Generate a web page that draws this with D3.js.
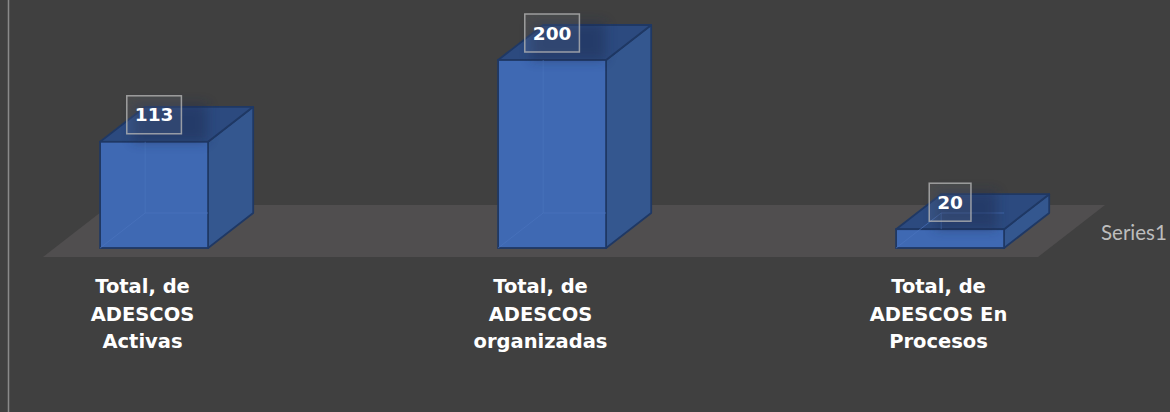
<!DOCTYPE html>
<html>
<head>
<meta charset="utf-8">
<script src="https://cdn.jsdelivr.net/npm/d3@7"></script>
<style>
  html, body { margin: 0; padding: 0; background: #404040; }
  svg { display: block; }
</style>
</head>
<body>
<svg id="chart" width="1170" height="412"></svg>
<script>
// ---- data ----
const categories = ["Total, de ADESCOS Activas", "Total, de ADESCOS organizadas", "Total, de ADESCOS En Procesos"];
const values = [113, 200, 20];
const seriesName = "Series1";

// ---- layout ----
const W = 1170, H = 412;
const floorFrontY = 257;
const floorDepth = { dx: 67, dy: -52 };
const barFrontOffset = 9 / 52;
const barDepthFrac = 35 / 52;
const barWidth = 108;

const svg = d3.select("#chart");
svg.append("rect").attr("width", W).attr("height", H).attr("fill", "#404040");
svg.append("line").attr("x1", 8.5).attr("x2", 8.5).attr("y1", 0).attr("y2", H)
  .attr("stroke", "#8a8a8a").attr("stroke-width", 1.5);

const defs = svg.append("defs");
defs.append("filter").attr("id", "blur").attr("x", "-50%").attr("y", "-50%").attr("width", "200%").attr("height", "200%")
  .append("feGaussianBlur").attr("stdDeviation", 6);

const x = d3.scalePoint().domain(categories).range([43, 1038]).padding(0.25);
const base = floorFrontY + floorDepth.dy * barFrontOffset;
const y = d3.scaleLinear().domain([0, 200]).range([base, 60]);

// floor
const fx0 = x.range()[0], fx1 = x.range()[1];
const floorPts = [
  [fx0, floorFrontY], [fx1, floorFrontY],
  [fx1 + floorDepth.dx, floorFrontY + floorDepth.dy],
  [fx0 + floorDepth.dx, floorFrontY + floorDepth.dy]
];
svg.append("polygon").attr("points", floorPts.map(p => p.join(",")).join(" "))
  .attr("fill", "#504e4f");

const ddx = floorDepth.dx * barDepthFrac, ddy = floorDepth.dy * barDepthFrac;
const offX = floorDepth.dx * barFrontOffset;

const bars = svg.append("g").selectAll("g").data(categories).join("g");
bars.each(function(c, i) {
  const g = d3.select(this);
  const cx = x(c) + offX;
  const x0 = cx - barWidth / 2, x1 = cx + barWidth / 2;
  const yb = y(0), yt = y(values[i]);
  const edge = "#1f3864";
  // side face
  g.append("polygon")
    .attr("points", [[x1, yb], [x1 + ddx, yb + ddy], [x1 + ddx, yt + ddy], [x1, yt]].map(p => p.join(",")).join(" "))
    .attr("fill", "#34578f").attr("stroke", edge).attr("stroke-width", 1.8).attr("stroke-linejoin", "round");
  // top face
  g.append("polygon")
    .attr("points", [[x0, yt], [x1, yt], [x1 + ddx, yt + ddy], [x0 + ddx, yt + ddy]].map(p => p.join(",")).join(" "))
    .attr("fill", "#2c4a7f").attr("stroke", edge).attr("stroke-width", 1.8).attr("stroke-linejoin", "round");
  // front face
  g.append("rect").attr("x", x0).attr("y", yt).attr("width", barWidth).attr("height", yb - yt)
    .attr("fill", "#3f69b3").attr("stroke", edge).attr("stroke-width", 1.8);
  // faint see-through back edges
  g.append("path")
    .attr("d", `M${x0 + ddx},${Math.max(yt, yt + ddy)} L${x0 + ddx},${yb + ddy} L${x1},${yb + ddy} M${x0},${yb} L${x0 + ddx},${yb + ddy}`)
    .attr("fill", "none").attr("stroke", "#4a74bd").attr("stroke-opacity", 0.7).attr("stroke-width", 1);
});

// value labels
bars.each(function(c, i) {
  const g = d3.select(this);
  const cx = x(c) + offX;
  const yt = y(values[i]);
  const t = g.append("text").attr("x", cx).attr("y", yt - 27)
    .attr("text-anchor", "middle").attr("dominant-baseline", "central")
    .attr("font-family", "DejaVu Sans").attr("font-weight", "bold").attr("font-size", 18.5)
    .attr("fill", "#ffffff").text(values[i]);
  const tw = t.node().getComputedTextLength();
  const bw = tw + 16, bh = 38;
  g.insert("rect", "text").attr("x", cx - bw / 2 + 6).attr("y", yt - 27 - bh / 2 + 8).attr("width", bw + 20).attr("height", bh)
    .attr("fill", "#1a2c50").attr("opacity", 0.45).attr("filter", "url(#blur)");
  g.insert("rect", "text").attr("x", cx - bw / 2).attr("y", yt - 27 - bh / 2).attr("width", bw).attr("height", bh)
    .attr("fill", "#ffffff").attr("fill-opacity", 0.06)
    .attr("stroke", "#b4b4b4").attr("stroke-opacity", 0.8).attr("stroke-width", 1.5);
});

// category labels (wrapped)
const labelG = svg.append("g");
categories.forEach(c => {
  const t = labelG.append("text").attr("x", x(c)).attr("y", 293)
    .attr("text-anchor", "middle")
    .attr("font-family", "DejaVu Sans").attr("font-weight", "bold").attr("font-size", 19.5)
    .attr("fill", "#ffffff");
  const words = c.split(" ");
  let line = [];
  let ts = t.append("tspan").attr("x", x(c)).attr("dy", 0);
  words.forEach(w => {
    line.push(w);
    ts.text(line.join(" "));
    if (ts.node().getComputedTextLength() > 165 && line.length > 1) {
      line.pop();
      ts.text(line.join(" "));
      line = [w];
      ts = t.append("tspan").attr("x", x(c)).attr("dy", 27.5).text(w);
    }
  });
});

// series (depth axis) label
svg.append("text").attr("x", 1101).attr("y", 240)
  .attr("font-family", "Lato").attr("font-size", 20.5).attr("fill", "#bdbdbd")
  .text(seriesName);
</script>
</body>
</html>
